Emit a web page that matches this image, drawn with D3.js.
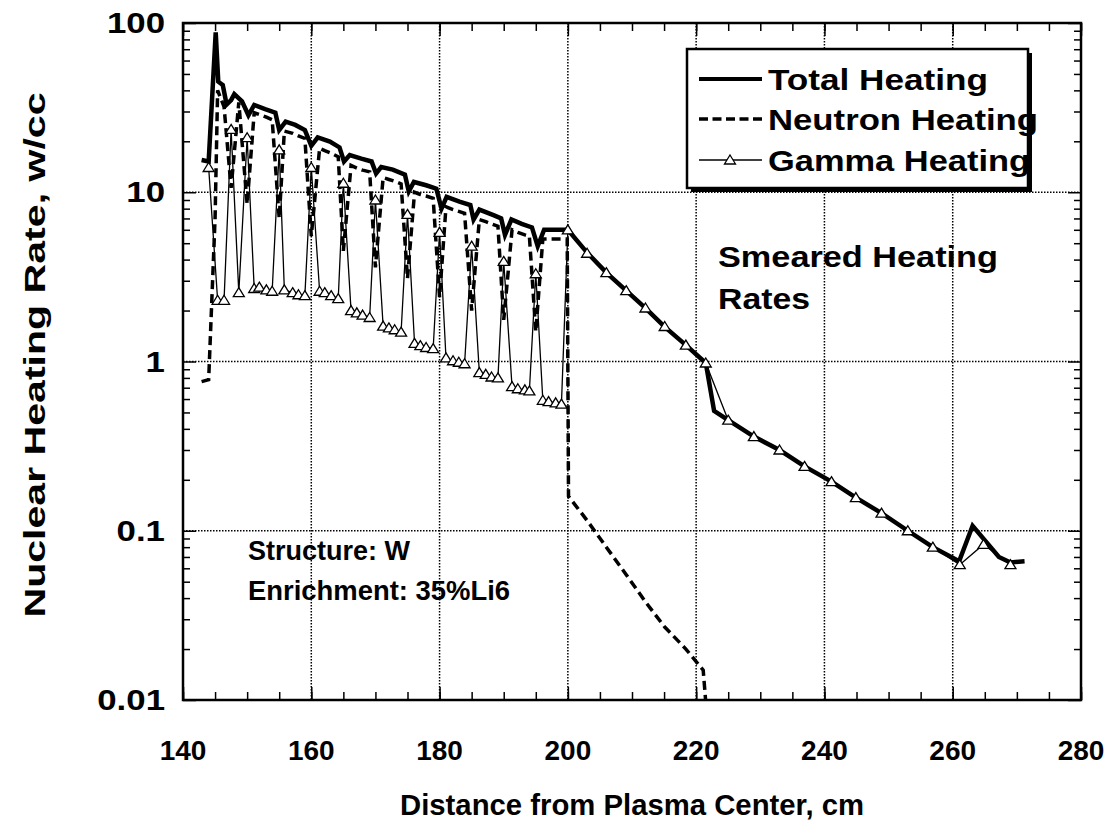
<!DOCTYPE html>
<html><head><meta charset="utf-8">
<script src="https://cdn.jsdelivr.net/npm/d3@7"></script>
<style>
html,body{margin:0;padding:0;background:#fff;}
text{font-family:"Liberation Sans",Arial,sans-serif;font-weight:bold;fill:#000;}
</style></head>
<body><svg id="c" width="1120" height="833"></svg>
<script>
// ---------- data ----------
const xTicks = [140,160,180,200,220,240,260,280];
const yTicks = [0.01,0.1,1,10,100];
const yTickLabels = ["0.01","0.1","1","10","100"];
const seriesNames = ["Total Heating","Neutron Heating","Gamma Heating"];

const totalX = [142.9,144.0,145.1,145.5,146.2,146.8,147.5,148.0,149.2,
  150.2,151.1,152.8,154.4, 155.0,156.0,157.5,159.0, 160.0,161.0,162.9,164.4,
  165.1,166.0,167.8,169.4, 170.1,170.9,172.7,174.6, 175.2,176.0,177.9,179.5,
  180.3,181.1,183.1,184.8, 185.3,186.2,188.5,189.6, 190.2,191.2,192.8,194.4,
  195.3,196.3,200.0, 203.0,206.0,209.1,212.1,215.1,218.4,221.5,222.8,225.0,229.0,
  233.0,236.9,241.1,244.9,248.9,253.0,256.9,261.0,263.1,267.2,269.0,271.2];
const totalY = [15.5,15.2,88,45,43,33,35,38,34.5,
  28.5,32.8,31,29.5, 23.3,26.1,25,23.3, 18.8,21.1,19.9,18.4,
  15.2,16.6,15.8,15.2, 12.9,14.1,13.6,12.7, 10.1,11.5,11.0,10.5,
  8.0,9.4,8.8,8.4, 6.9,7.9,7.3,7.0, 5.6,6.9,6.5,6.2,
  4.8,6.0,6.0, 4.4,3.35,2.62,2.07,1.6,1.25,0.98,0.51,0.45,0.36,
  0.30,0.24,0.195,0.157,0.127,0.100,0.080,0.066,0.107,0.070,0.065,0.066];

const neutronX = [142.9,144.0,145.0,145.4,146.4,147.5,148.7,150.0,
  151.1,151.9,153.0,153.9,155.0,155.8,157.1,158.0,159.0,160.0,
  161.3,162.1,163.1,164.2,165.0,166.2,167.1,168.0,169.1,170.0,
  171.2,172.1,173.0,174.0,175.0,176.1,177.0,177.9,179.0,180.0,
  181.0,182.1,183.0,183.9,185.0,186.2,187.2,188.1,189.1,190.0,
  191.3,192.2,193.3,194.0,195.0,196.1,197.0,198.1,199.0,199.9,
  200.1,203.0,206.0,209.1,212.1,215.1,218.4,221.1,221.8];
const neutronY = [0.76,0.78,7,40,32,10.6,34,8.5,
  29.5,28.8,27.8,26.8,7.0,23,22.3,21.5,20.8,5.5,
  18.2,17.6,17.0,16.2,4.5,14.4,13.9,13.5,13.2,3.6,
  12.2,11.9,11.6,11.2,3.1,10.0,9.7,9.5,9.2,2.4,
  8.2,7.9,7.7,7.5,2.0,6.9,6.7,6.5,6.3,1.76,
  6.0,5.8,5.6,5.5,1.5,5.3,5.3,5.3,5.3,5.3,
  0.16,0.115,0.08,0.055,0.038,0.027,0.020,0.015,0.007];

const gammaX = [144.0,145.4,146.4,147.5,148.7,150.0,
  151.1,151.9,153.0,153.9,155.0,155.8,157.1,158.0,159.0,160.0,
  161.3,162.1,163.1,164.2,165.0,166.2,167.1,168.0,169.1,170.0,
  171.2,172.1,173.0,174.0,175.0,176.1,177.0,177.9,179.0,180.0,
  181.0,182.1,183.0,183.9,185.0,186.2,187.2,188.1,189.1,190.0,
  191.3,192.2,193.3,194.0,195.0,196.1,197.0,198.1,199.0,200.0,
  203.0,206.0,209.1,212.1,215.1,218.4,221.5,225.0,229.0,233.0,
  236.9,241.1,244.9,248.9,253.0,256.9,261.1,264.8,269.0];
const gammaY = [14.0,2.3,2.3,23.5,2.55,21,
  2.7,2.75,2.65,2.6,17.8,2.65,2.55,2.48,2.45,14.0,
  2.6,2.55,2.45,2.35,11.3,2.0,1.94,1.88,1.82,9.0,
  1.62,1.58,1.54,1.49,7.4,1.28,1.24,1.21,1.19,5.8,
  1.05,1.01,0.99,0.97,4.8,0.86,0.84,0.81,0.80,3.9,
  0.71,0.69,0.68,0.67,3.3,0.59,0.58,0.57,0.56,6.0,
  4.36,3.35,2.62,2.07,1.61,1.25,0.98,0.45,0.36,0.30,
  0.24,0.195,0.157,0.127,0.100,0.080,0.063,0.083,0.063];

// ---------- layout ----------
const svg = d3.select("#c");
const L = 183, R = 1081, T = 23, B = 700;
const x = d3.scaleLinear().domain([140,280]).range([L,R]);
const y = d3.scaleLog().domain([0.01,100]).range([B,T]);

svg.append("defs").append("clipPath").attr("id","clip")
  .append("rect").attr("x",L).attr("y",T).attr("width",R-L).attr("height",B-T);

// grid
const g = svg.append("g");
g.selectAll(".gx").data(xTicks.filter(v=>v>140&&v<280)).enter().append("line")
  .attr("x1",d=>x(d)).attr("x2",d=>x(d)).attr("y1",T).attr("y2",B)
  .attr("stroke","#000").attr("stroke-width",1.5).attr("stroke-dasharray","1.5,1.5");
g.selectAll(".gy").data(yTicks.filter(v=>v>0.01&&v<100)).enter().append("line")
  .attr("x1",L).attr("x2",R).attr("y1",d=>y(d)).attr("y2",d=>y(d))
  .attr("stroke","#000").attr("stroke-width",1.5).attr("stroke-dasharray","1.5,1.5");

// axes via d3 axis generators
const minorX = d3.range(140,281,5);
const minorY = [];
[0.01,0.1,1,10].forEach(dec=>{for(let k=2;k<=9;k++) minorY.push(dec*k);});

function styleAxis(sel){ sel.select(".domain").remove(); sel.selectAll("line").attr("stroke","#000").attr("stroke-width",1.5); sel.selectAll("text").remove(); }
svg.append("g").attr("transform",`translate(0,${B})`).call(d3.axisTop(x).tickValues(minorX).tickSize(8)).call(styleAxis);
svg.append("g").attr("transform",`translate(0,${B})`).call(d3.axisTop(x).tickValues(xTicks).tickSize(13)).call(styleAxis);
svg.append("g").attr("transform",`translate(0,${T})`).call(d3.axisBottom(x).tickValues(minorX).tickSize(8)).call(styleAxis);
svg.append("g").attr("transform",`translate(0,${T})`).call(d3.axisBottom(x).tickValues(xTicks).tickSize(13)).call(styleAxis);
svg.append("g").attr("transform",`translate(${L},0)`).call(d3.axisRight(y).tickValues(minorY).tickSize(7)).call(styleAxis);
svg.append("g").attr("transform",`translate(${L},0)`).call(d3.axisRight(y).tickValues(yTicks).tickSize(13)).call(styleAxis);
svg.append("g").attr("transform",`translate(${R},0)`).call(d3.axisLeft(y).tickValues(minorY).tickSize(7)).call(styleAxis);
svg.append("g").attr("transform",`translate(${R},0)`).call(d3.axisLeft(y).tickValues(yTicks).tickSize(13)).call(styleAxis);

svg.append("rect").attr("x",L).attr("y",T).attr("width",R-L).attr("height",B-T)
  .attr("fill","none").attr("stroke","#000").attr("stroke-width",2.5);

// tick labels
svg.selectAll(".xl").data(xTicks).enter().append("text")
  .attr("x",d=>x(d)).attr("y",760).attr("text-anchor","middle").attr("font-size",28).text(d=>d);
const ylab = svg.selectAll(".yl").data(yTicks).enter().append("text")
  .attr("x",165).attr("y",d=>y(d)+10).attr("text-anchor","end").attr("font-size",29)
  .text((d,i)=>yTickLabels[i]);
ylab.each(function(){ const w=this.getComputedTextLength(); d3.select(this).attr("textLength",w*1.2).attr("lengthAdjust","spacingAndGlyphs"); });

// axis titles
svg.append("text").attr("x",632).attr("y",815).attr("text-anchor","middle").attr("font-size",29)
  .attr("textLength",464).attr("lengthAdjust","spacingAndGlyphs")
  .text("Distance from Plasma Center, cm");
svg.append("text").attr("transform",`translate(45,355) rotate(-90)`).attr("text-anchor","middle").attr("font-size",30)
  .attr("textLength",525).attr("lengthAdjust","spacingAndGlyphs")
  .text("Nuclear Heating Rate, w/cc");

// series
const plot = svg.append("g").attr("clip-path","url(#clip)");
const line = d3.line().x(d=>x(d[0])).y(d=>y(d[1]));
const tot = totalX.map((v,i)=>[v,totalY[i]]);
const neu = neutronX.map((v,i)=>[v,neutronY[i]]);
const gam = gammaX.map((v,i)=>[v,gammaY[i]]);
const tri = "M0,-5L5.5,4L-5.5,4Z";

plot.append("path").datum(neu).attr("d",line).attr("fill","none").attr("stroke","#000")
  .attr("stroke-width",3.5).attr("stroke-dasharray","9,5");
plot.append("path").datum(gam).attr("d",line).attr("fill","none").attr("stroke","#000").attr("stroke-width",1.3);
plot.append("path").datum(tot).attr("d",line).attr("fill","none").attr("stroke","#000")
  .attr("stroke-width",4.5).attr("stroke-linejoin","miter");
plot.selectAll(".m").data(gam).enter().append("path").attr("d",tri)
  .attr("transform",d=>`translate(${x(d[0])},${y(d[1])})`)
  .attr("fill","#fff").attr("stroke","#000").attr("stroke-width",1.3);

// legend
const lg = svg.append("g");
lg.append("rect").attr("x",691).attr("y",53).attr("width",341).attr("height",139).attr("fill","#000");
lg.append("rect").attr("x",687).attr("y",49).attr("width",341).attr("height",139).attr("fill","#fff").attr("stroke","#000").attr("stroke-width",2.5);
const rows = [79,119,160];
const legendLen = [220,270,262];
rows.forEach((ry,i)=>{
  const ln = lg.append("line").attr("x1",699).attr("x2",762).attr("y1",ry).attr("y2",ry).attr("stroke","#000");
  if(i===0) ln.attr("stroke-width",4);
  if(i===1) ln.attr("stroke-width",3.5).attr("stroke-dasharray","9,4.5");
  if(i===2){ ln.attr("stroke-width",1.3); lg.append("path").attr("d",tri).attr("transform",`translate(730,${ry})`).attr("fill","#fff").attr("stroke","#000").attr("stroke-width",1.3); }
  lg.append("text").attr("x",768).attr("y",ry+11).attr("font-size",30)
    .attr("textLength",legendLen[i]).attr("lengthAdjust","spacingAndGlyphs").text(seriesNames[i]);
});

// annotations
svg.append("text").attr("x",718).attr("y",267).attr("font-size",29)
  .attr("textLength",280).attr("lengthAdjust","spacingAndGlyphs").text("Smeared Heating");
svg.append("text").attr("x",718).attr("y",309).attr("font-size",29)
  .attr("textLength",92).attr("lengthAdjust","spacingAndGlyphs").text("Rates");
svg.append("text").attr("x",248).attr("y",560).attr("font-size",27).text("Structure: W");
svg.append("text").attr("x",248).attr("y",600).attr("font-size",27)
  .attr("textLength",262).attr("lengthAdjust","spacingAndGlyphs").text("Enrichment: 35%Li6");
</script></body></html>
